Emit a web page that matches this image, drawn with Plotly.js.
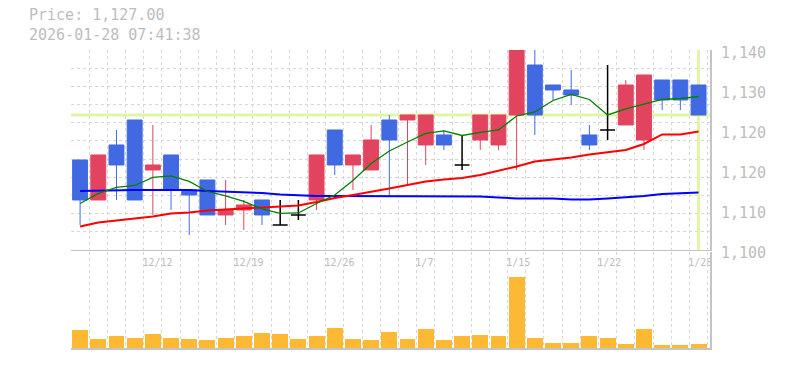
<!DOCTYPE html>
<html><head><meta charset="utf-8">
<script src="https://cdn.plot.ly/plotly-3.0.1.min.js"></script>
<style>html,body{margin:0;padding:0;background:#fff;} #chart{width:785px;height:370px;}</style>
</head><body><div id="chart"></div>
<script>
const priceLabel = 'Price: 1,127.00';
const timeLabel = '2026-01-28 07:41:38';
const lastPrice = 1127;

const opens  = [1118,1110,1121,1126,1116,1119,1112,1114,1107,1108,1110,1105,1107,1110,1124,1117,1116,1126,1126,1121,1123,1117,1122,1121,1127,1137,1133,1132,1123,1124,1125,1122,1134,1134,1133];
const highs  = [1118,1119,1124,1126,1125,1119,1112,1114,1114,1110,1110,1110,1110,1119,1124,1119,1125,1127,1127,1127,1124,1123,1127,1127,1140,1140,1133,1136,1125,1137,1134,1135,1134,1134,1133];
const lows   = [1105,1110,1110,1110,1107,1108,1103,1107,1105,1104,1105,1105,1106,1108,1115,1112,1116,1111,1113,1117,1120,1116,1120,1120,1116,1123,1130,1129,1120,1122,1125,1120,1128,1128,1127];
const closes = [1110,1119,1117,1110,1117,1112,1111,1107,1108,1109,1107,1105,1107,1119,1117,1119,1122,1122,1127,1127,1121,1117,1127,1127,1140,1127,1132,1131,1121,1124,1133,1135,1130,1130,1127];
const volumes = [1770,870,1170,970,1370,970,870,770,970,1170,1470,1370,870,1170,1970,870,770,1570,870,1870,770,1170,1270,1170,7100,970,470,470,1170,970,370,1870,270,270,370];

const ma5  = [1109.3,1111.3,1112.5,1112.9,1114.5,1114.8,1113.7,1111.7,1110.8,1109.7,1108.2,1107.3,1107.4,1109.3,1111.0,1113.9,1117.3,1119.8,1121.6,1123.3,1123.8,1122.9,1123.5,1124.0,1126.8,1127.6,1129.9,1131.1,1130.1,1127.0,1128.2,1129.1,1130.1,1130.3,1130.7];
const ma25 = [1104.7,1105.5,1105.9,1106.3,1106.7,1107.3,1107.5,1107.9,1108.1,1108.3,1108.4,1108.6,1108.9,1109.6,1110.4,1111.0,1111.6,1112.3,1113.0,1113.7,1114.1,1114.4,1115.0,1115.8,1116.7,1117.7,1118.1,1118.5,1119.1,1119.5,1120.0,1121.2,1123.1,1123.1,1123.7];
const ma75 = [1111.8,1111.9,1111.9,1112.0,1112.0,1112.0,1112.0,1111.8,1111.7,1111.5,1111.4,1111.1,1110.9,1110.8,1110.8,1110.8,1110.8,1110.8,1110.8,1110.8,1110.8,1110.8,1110.7,1110.5,1110.3,1110.3,1110.3,1110.1,1110.1,1110.3,1110.5,1110.8,1111.2,1111.3,1111.5];

const dateLabels = ['12/12','12/19','12/26','1/7','1/15','1/22','1/28'];
const dateLabelIdx = [4,9,14,19,24,29,34];
const yTickVals = [1100,1108,1116,1124,1132,1140];
const yTickText = ['1,100','1,110','1,120','1,120','1,130','1,140'];

const RED = '#E2445F', BLUE = '#4169E1', VOL = '#FDB933';
const GRID = '#d6d6d6', FRAME = '#c4c4c4', TXT = '#bdbdbd', PRICE_LINE = '#E2F5A6';

const idx = opens.map((_, i) => i);
const n = idx.length;
function pick(cond) {
  const sel = idx.filter(cond);
  return {x: sel, open: sel.map(i => opens[i]), high: sel.map(i => highs[i]),
          low: sel.map(i => lows[i]), close: sel.map(i => closes[i])};
}
const up = pick(i => closes[i] > opens[i]);
const dn = pick(i => closes[i] < opens[i]);
const dj = pick(i => closes[i] === opens[i]);

const xMin = -0.5, xMax = n - 0.5 + 0.13;
const gridX = [];
for (let k = 0; k <= n; k++) gridX.push(k - 0.5);
const gridText = gridX.map(g => { const j = dateLabelIdx.indexOf(g + 0.5); return j >= 0 ? dateLabels[j] : ''; });
const yMin = 1100, yMax = 1140;
const yGrid = [];
for (let k = 0; k <= 11; k++) yGrid.push(yMin + k * (yMax - yMin) / 11);

function candle(d, color, w) {
  return {type: 'candlestick', x: d.x, open: d.open, high: d.high, low: d.low, close: d.close,
    xaxis: 'x', yaxis: 'y', whiskerwidth: 0, hoverinfo: 'none',
    increasing: {line: {color: color, width: w}, fillcolor: color},
    decreasing: {line: {color: color, width: w}, fillcolor: color}};
}
const maLine = (y, color, w) => ({type: 'scatter', mode: 'lines', x: idx, y: y, xaxis: 'x', yaxis: 'y',
  line: {color: color, width: w}, hoverinfo: 'none'});

const data = [
  maLine(ma75, '#0000FF', 2),
  maLine(ma25, '#FF0000', 2),
  maLine(ma5, '#008000', 1.3),
  candle(up, RED, 1),
  candle(dn, BLUE, 1),
  candle(dj, '#000000', 1.5),
  {type: 'bar', x: idx, y: volumes, xaxis: 'x2', yaxis: 'y2', width: 0.875,
   marker: {color: VOL, line: {width: 0}}, hoverinfo: 'none'},
  {type: 'scatter', mode: 'markers', x: [n - 1], y: [lastPrice], xaxis: 'x', yaxis: 'y3',
   marker: {size: 1, opacity: 0}, hoverinfo: 'none'}
];

const gridAx = {showgrid: true, gridcolor: GRID, griddash: '3px,3px', gridwidth: 1, zeroline: false, ticks: ''};

const layout = {
  width: 785, height: 370, margin: {l: 70.5, r: 74.5, t: 50, b: 22},
  paper_bgcolor: '#ffffff', plot_bgcolor: '#ffffff', showlegend: false,
  font: {family: '"DejaVu Sans Mono", monospace', color: TXT},
  boxgap: 0.18, boxgroupgap: 0, bargap: 0,
  xaxis: Object.assign({}, gridAx, {anchor: 'y', domain: [0, 1], range: [xMin, xMax], tickmode: 'array',
    tickvals: gridX, ticktext: gridText, ticklabelposition: 'outside right', ticklabelshift: -2,
    ticklabelstandoff: 3,
    tickfont: {size: 10, color: TXT}, showline: true, linecolor: FRAME, linewidth: 1.5,
    rangeslider: {visible: false}, fixedrange: true}),
  yaxis: Object.assign({}, gridAx, {anchor: 'x', domain: [0.329, 1], range: [yMin, yMax], side: 'right',
    tickmode: 'array', tickvals: yGrid, showticklabels: false, showline: true, linecolor: FRAME, linewidth: 1.5}),
  yaxis3: {overlaying: 'y', anchor: 'x', side: 'right', range: [yMin, yMax], tickmode: 'array',
    tickvals: yTickVals, ticktext: yTickText, showgrid: false, zeroline: false, ticks: '', showline: false,
    tickfont: {size: 15, color: TXT}, ticklabelstandoff: 10, ticklabelshift: 3},
  xaxis2: Object.assign({}, gridAx, {anchor: 'y2', domain: [0, 1], range: [xMin, xMax], tickmode: 'array',
    tickvals: gridX, showticklabels: false, showline: true, linecolor: FRAME, linewidth: 1.5}),
  yaxis2: {anchor: 'x2', domain: [0, 0.3238], range: [0, 9650], side: 'right', showgrid: false,
    showticklabels: false, showline: true, linecolor: FRAME, linewidth: 1.5, zeroline: false, ticks: ''},
  shapes: [
    {type: 'line', layer: 'between', xref: 'x', x0: xMin, x1: xMax, yref: 'y', y0: lastPrice, y1: lastPrice,
     line: {color: PRICE_LINE, width: 3}},
    {type: 'line', layer: 'between', xref: 'x', x0: n - 1, x1: n - 1, yref: 'y', y0: yMin, y1: yMax,
     line: {color: PRICE_LINE, width: 3}}
  ],
  annotations: [
    {text: priceLabel + '<br>' + timeLabel, xref: 'paper', yref: 'paper', x: -0.0695, y: 1.085,
     xanchor: 'left', yanchor: 'middle', align: 'left',
     showarrow: false, font: {size: 15, color: TXT}}
  ]
};

Plotly.newPlot('chart', data, layout, {staticPlot: true, displayModeBar: false});
</script>
</body></html>
